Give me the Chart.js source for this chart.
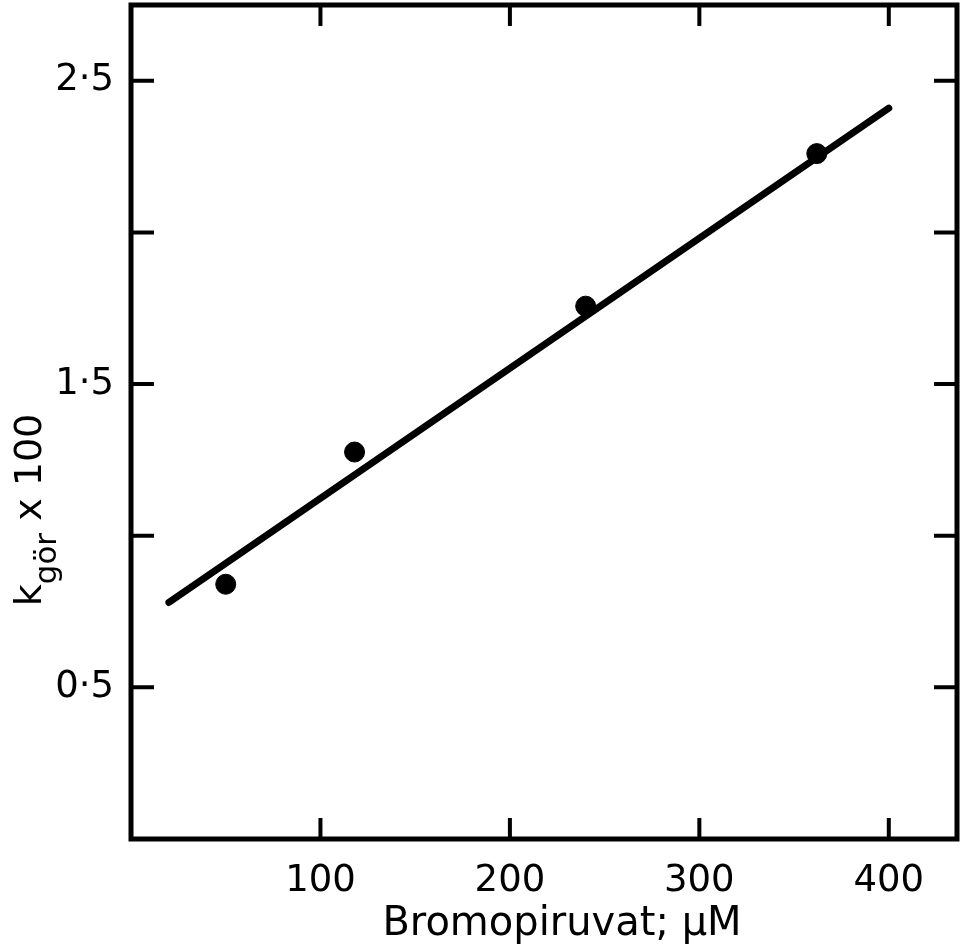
<!DOCTYPE html>
<html>
<head>
<meta charset="utf-8">
<script src="https://cdn.jsdelivr.net/npm/chart.js@4.4.0/dist/chart.umd.min.js"></script>
<style>
  html, body { margin: 0; padding: 0; background: #fff; }
  #wrap { width: 960px; height: 949px; }
</style>
</head>
<body>
<div id="wrap"><canvas id="myChart" width="960" height="949"></canvas></div>
<script>
var bromo = [50, 118, 240, 362];
var kgor = [0.84, 1.276, 1.757, 2.26];
// prosta dopasowania
var fitX = [20, 400];
var fitY = [0.78, 2.41];
// osie
var xMin = 0, xMax = 436, xStep = 100;
var yMin = 0, yMax = 2.75, yStep = 0.5;
var yLabelled = [0.5, 1.5, 2.5];
var xTitle = 'Bromopiruvat; µM';

var points = bromo.map(function(v, i) { return {x: v, y: kgor[i]}; });
var fitLine = fitX.map(function(v, i) { return {x: v, y: fitY[i]}; });

var fontFam = "'DejaVu Sans', sans-serif";

// ramka i kreski podzialki do wewnatrz
var framePlugin = {
  id: 'frame',
  afterDraw: function(chart) {
    var ctx = chart.ctx, a = chart.chartArea;
    var xs = chart.scales.x, ys = chart.scales.y;
    ctx.save();
    ctx.strokeStyle = '#000';
    ctx.lineWidth = 5;
    ctx.lineCap = 'square';
    ctx.strokeRect(a.left, a.top, a.right - a.left, a.bottom - a.top);
    ctx.lineWidth = 4;
    ctx.beginPath();
    xs.ticks.forEach(function(t) {
      var px = xs.getPixelForValue(t.value);
      if (px <= a.left + 3 || px >= a.right - 3) return;
      ctx.moveTo(px, a.bottom); ctx.lineTo(px, a.bottom - 19);
      ctx.moveTo(px, a.top); ctx.lineTo(px, a.top + 19);
    });
    ys.ticks.forEach(function(t) {
      var py = ys.getPixelForValue(t.value);
      if (py <= a.top + 3 || py >= a.bottom - 3) return;
      ctx.moveTo(a.left, py); ctx.lineTo(a.left + 21, py);
      ctx.moveTo(a.right, py); ctx.lineTo(a.right - 21, py);
    });
    ctx.stroke();
    ctx.restore();
  }
};

// tytuly osi (Y z indeksem dolnym)
var titlesPlugin = {
  id: 'titles',
  afterDraw: function(chart) {
    var ctx = chart.ctx;
    var big = "38px " + fontFam, small = "31px " + fontFam;
    var parts = [["k", big, 0], ["gör", small, 15], [" x 100", big, 0]];
    ctx.save();
    ctx.fillStyle = '#000';
    ctx.textBaseline = 'alphabetic';
    ctx.textAlign = 'left';
    var total = 0;
    parts.forEach(function(p) { ctx.font = p[1]; total += ctx.measureText(p[0]).width; });
    ctx.save();
    ctx.translate(41, 510);
    ctx.rotate(-Math.PI / 2);
    var x = -total / 2;
    parts.forEach(function(p) {
      ctx.font = p[1];
      ctx.fillText(p[0], x, p[2]);
      x += ctx.measureText(p[0]).width;
    });
    ctx.restore();
    ctx.font = "40px " + fontFam;
    ctx.textAlign = 'center';
    ctx.fillText(xTitle, 562, 935);
    ctx.restore();
  }
};

var ctx = document.getElementById('myChart').getContext('2d');
var chart = new Chart(ctx, {
  type: 'scatter',
  data: {
    datasets: [{
      type: 'line',
      label: 'fit',
      data: fitLine,
      borderColor: '#000',
      borderWidth: 7,
      borderCapStyle: 'round',
      pointRadius: 0,
      fill: false
    }, {
      label: 'kgör',
      data: points,
      backgroundColor: '#000',
      borderColor: '#000',
      pointRadius: 10,
      pointHoverRadius: 10
    }]
  },
  options: {
    responsive: false,
    animation: false,
    layout: { autoPadding: false, padding: { left: 0, right: 3, top: 5, bottom: 0 } },
    plugins: { legend: { display: false }, tooltip: { enabled: false } },
    scales: {
      x: {
        type: 'linear',
        min: xMin, max: xMax,
        grid: { display: false },
        border: { display: false },
        ticks: {
          stepSize: xStep,
          includeBounds: false,
          padding: 12,
          color: '#000',
          font: { family: fontFam, size: 37 },
          maxRotation: 0,
          callback: function(v) { return v > 0 ? String(v) : ''; }
        },
        afterFit: function(s) {
          s.height = 110;
          s.paddingLeft = 0; s.paddingRight = 0;
        }
      },
      y: {
        min: yMin, max: yMax,
        grid: { display: false },
        border: { display: false },
        ticks: {
          stepSize: yStep,
          includeBounds: false,
          padding: 9,
          color: '#000',
          font: { family: fontFam, size: 37 },
          callback: function(v) {
            return yLabelled.indexOf(v) >= 0 ? v.toFixed(1).replace('.', '·') : '';
          }
        },
        afterFit: function(s) {
          s.width = 131;
          s.paddingTop = 0; s.paddingBottom = 0;
        }
      }
    }
  },
  plugins: [framePlugin, titlesPlugin]
});
</script>
</body>
</html>
